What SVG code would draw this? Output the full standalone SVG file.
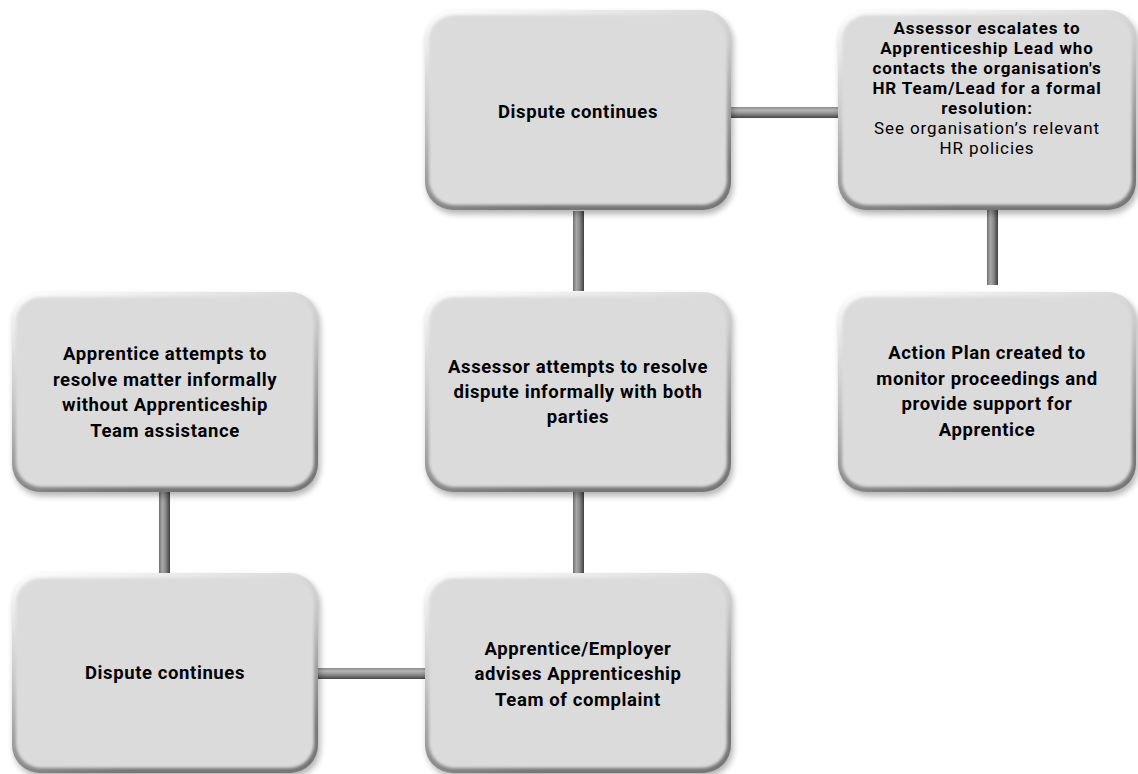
<svg xmlns="http://www.w3.org/2000/svg" width="1138" height="774" viewBox="0 0 1138 774">
<defs>
  <linearGradient id="edge" x1="0" y1="0" x2="0.35" y2="1">
    <stop offset="0" stop-color="#ffffff"/>
    <stop offset="0.5" stop-color="#c4c4c4"/>
    <stop offset="1" stop-color="#767676"/>
  </linearGradient>
  <linearGradient id="barV" x1="0" y1="0" x2="1" y2="0">
    <stop offset="0" stop-color="#6e6e6e"/>
    <stop offset="0.3" stop-color="#a9a9a9"/>
    <stop offset="0.6" stop-color="#8a8a8a"/>
    <stop offset="1" stop-color="#3e3e3e"/>
  </linearGradient>
  <linearGradient id="barH" x1="0" y1="0" x2="0" y2="1">
    <stop offset="0" stop-color="#8c8c8c"/>
    <stop offset="0.3" stop-color="#b5b5b5"/>
    <stop offset="0.6" stop-color="#8e8e8e"/>
    <stop offset="1" stop-color="#454545"/>
  </linearGradient>
  <filter id="shadow" x="-10%" y="-10%" width="120%" height="125%">
    <feGaussianBlur stdDeviation="3"/>
  </filter>
  <filter id="soft" x="-5%" y="-5%" width="110%" height="110%">
    <feGaussianBlur stdDeviation="1.4"/>
  </filter>
  <style>
    .sh{fill:#000;opacity:0.3;filter:url(#shadow)}
    .outer{fill:url(#edge)}
    .inner{fill:#dcdbdc;filter:url(#soft)}
    .t{font-family:Roboto,"Open Sans","Liberation Sans",sans-serif;font-size:18.5px;letter-spacing:0.6px;font-weight:bold;fill:#000;text-anchor:middle}
    .s{font-size:17px;letter-spacing:0.9px}
    .r{font-weight:normal}
    .bv{fill:url(#barV)}
    .bh{fill:url(#barH)}
  </style>
</defs>

<g id="connectors">
  <rect class="bh" x="730" y="107" width="108" height="11"/>
  <rect class="bv" x="573" y="211" width="11" height="80"/>
  <rect class="bv" x="573" y="491" width="11" height="83"/>
  <rect class="bv" x="987" y="204" width="11" height="81"/>
  <rect class="bv" x="159" y="491" width="11" height="83"/>
  <rect class="bh" x="318" y="668" width="107" height="11"/>
</g>

<g id="n-dispute-top">
  <rect class="sh" x="427" y="14" width="306" height="200" rx="28"/>
  <rect class="outer" x="425" y="10" width="306" height="200" rx="28"/>
  <rect class="inner" x="429" y="15" width="298" height="190" rx="25"/>
  <text class="t" x="578" y="118">Dispute continues</text>
</g>

<g id="n-escalate">
  <rect class="sh" x="840" y="14" width="298" height="200" rx="28"/>
  <rect class="outer" x="838" y="10" width="298" height="200" rx="28"/>
  <rect class="inner" x="842" y="15" width="290" height="190" rx="25"/>
  <text class="t s" x="987" y="34">Assessor escalates to</text>
  <text class="t s" x="987" y="54">Apprenticeship Lead who</text>
  <text class="t s" x="987" y="74">contacts the organisation's</text>
  <text class="t s" x="987" y="94">HR Team/Lead for a formal</text>
  <text class="t s" x="987" y="114">resolution:</text>
  <text class="t s r" x="987" y="134">See organisation’s relevant</text>
  <text class="t s r" x="987" y="154">HR policies</text>
</g>

<g id="n-apprentice-informal">
  <rect class="sh" x="14" y="296" width="306" height="200" rx="28"/>
  <rect class="outer" x="12" y="292" width="306" height="200" rx="28"/>
  <rect class="inner" x="16" y="297" width="298" height="190" rx="25"/>
  <text class="t" x="165" y="360">Apprentice attempts to</text>
  <text class="t" x="165" y="385.5">resolve matter informally</text>
  <text class="t" x="165" y="411">without Apprenticeship</text>
  <text class="t" x="165" y="436.5">Team assistance</text>
</g>

<g id="n-assessor-informal">
  <rect class="sh" x="427" y="296" width="306" height="200" rx="28"/>
  <rect class="outer" x="425" y="292" width="306" height="200" rx="28"/>
  <rect class="inner" x="429" y="297" width="298" height="190" rx="25"/>
  <text class="t" x="578" y="373">Assessor attempts to resolve</text>
  <text class="t" x="578" y="398">dispute informally with both</text>
  <text class="t" x="578" y="423">parties</text>
</g>

<g id="n-action-plan">
  <rect class="sh" x="840" y="296" width="298" height="200" rx="28"/>
  <rect class="outer" x="838" y="292" width="298" height="200" rx="28"/>
  <rect class="inner" x="842" y="297" width="290" height="190" rx="25"/>
  <text class="t" x="987" y="359">Action Plan created to</text>
  <text class="t" x="987" y="384.5">monitor proceedings and</text>
  <text class="t" x="987" y="410">provide support for</text>
  <text class="t" x="987" y="435.5">Apprentice</text>
</g>

<g id="n-dispute-bottom">
  <rect class="sh" x="14" y="577" width="306" height="200" rx="28"/>
  <rect class="outer" x="12" y="573" width="306" height="200" rx="28"/>
  <rect class="inner" x="16" y="578" width="298" height="190" rx="25"/>
  <text class="t" x="165" y="679">Dispute continues</text>
</g>

<g id="n-advises">
  <rect class="sh" x="427" y="577" width="306" height="200" rx="28"/>
  <rect class="outer" x="425" y="573" width="306" height="200" rx="28"/>
  <rect class="inner" x="429" y="578" width="298" height="190" rx="25"/>
  <text class="t" x="578" y="654.5">Apprentice/Employer</text>
  <text class="t" x="578" y="680">advises Apprenticeship</text>
  <text class="t" x="578" y="705.5">Team of complaint</text>
</g>
</svg>
